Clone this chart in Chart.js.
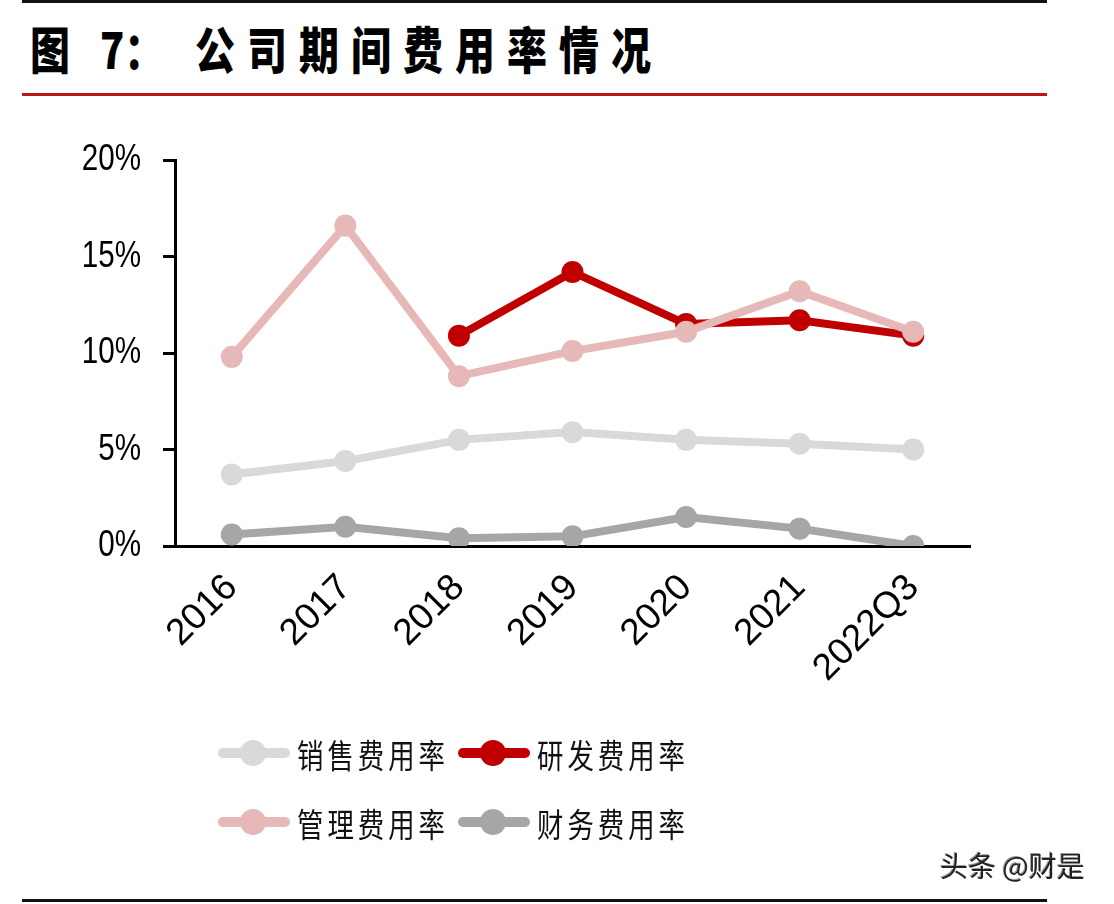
<!DOCTYPE html>
<html>
<head>
<meta charset="utf-8">
<script src="https://cdn.jsdelivr.net/npm/chart.js@4.4.0/dist/chart.umd.min.js"></script>
<style>
  html, body { margin: 0; padding: 0; background: #ffffff; }
  body { width: 1114px; height: 904px; position: relative; overflow: hidden; }
  #wrap { position: absolute; left: 0; top: 0; width: 1114px; height: 904px; }
  .hline { position: absolute; left: 22px; width: 1025px; }
  .cjk { font-family: "Noto Sans CJK SC", sans-serif; position: absolute; white-space: nowrap; transform-origin: left center; }
</style>
</head>
<body>
<div class="hline" style="top:0px;height:3px;background:#111;"></div>
<div class="cjk" style="left:30px;top:14px;font-size:50px;font-weight:900;line-height:66px;transform:scaleX(0.8);color:#000;">图</div>
<div class="cjk" style="left:100px;top:14px;font-size:50px;font-weight:900;line-height:66px;transform:scaleX(0.8);color:#000;">7：</div>
<div class="cjk" style="left:195px;top:14px;font-size:50px;font-weight:900;line-height:66px;letter-spacing:15px;transform:scaleX(0.8);color:#000;">公司期间费用率情况</div>
<div class="hline" style="top:93px;height:3px;background:#b8161b;"></div>
<div id="wrap"><canvas id="c" width="1114" height="904"></canvas></div>
<div id="legend"></div>
<div class="cjk" style="left:940px;top:847px;font-size:28px;line-height:36px;color:#222;text-shadow:1px 1px 0 #fff, -1px -1px 0 #999;">头条 @财是</div>
<div class="hline" style="top:899px;height:3px;background:#111;"></div>
<script>
const categories = ["2016", "2017", "2018", "2019", "2020", "2021", "2022Q3"];
const salesRate = [3.7, 4.4, 5.5, 5.9, 5.5, 5.3, 5.0];
const rdRate = [null, null, 10.9, 14.2, 11.5, 11.7, 10.9];
const adminRate = [9.8, 16.6, 8.8, 10.1, 11.1, 13.2, 11.1];
const financeRate = [0.6, 1.0, 0.4, 0.5, 1.5, 0.9, 0.0];
const yTicks = [0, 5, 10, 15, 20];

const seriesNames = ["销售费用率", "研发费用率", "管理费用率", "财务费用率"];
const seriesColors = ["#d9d9d9", "#c00000", "#e6b8b7", "#a6a6a6"];
const seriesData = [salesRate, rdRate, adminRate, financeRate];
const seriesOrder = [2, 1, 0, 3];

const axisFont = { family: "'Liberation Sans', Arial, sans-serif", size: 37 };

const datasets = seriesNames.map((name, i) => ({
  label: name,
  data: seriesData[i],
  borderColor: seriesColors[i],
  backgroundColor: seriesColors[i],
  pointBackgroundColor: seriesColors[i],
  pointBorderWidth: 0,
  pointRadius: 11,
  borderWidth: 8,
  tension: 0,
  spanGaps: false,
  order: seriesOrder[i]
}));

// horizontally condense the y tick labels (the reference is horizontally compressed)
const condenseY = {
  id: 'condenseY',
  beforeDraw(chart) {
    const s = chart.scales.y;
    if (s && !s._condensed) {
      const orig = s.drawLabels;
      s.drawLabels = function (area) {
        const ctx = this.ctx;
        const ax = this.right - 12 - 22;
        ctx.save();
        ctx.translate(ax, 0);
        ctx.scale(0.8, 1);
        ctx.translate(-ax, 0);
        orig.call(this, area);
        ctx.restore();
      };
      s._condensed = true;
    }
  }
};

new Chart(document.getElementById('c'), {
  type: 'line',
  data: { labels: categories, datasets: datasets },
  plugins: [condenseY],
  options: {
    responsive: false,
    animation: false,
    devicePixelRatio: 1,
    layout: { padding: { left: 0, right: 144, top: 160, bottom: 200 } },
    plugins: { legend: { display: false }, tooltip: { enabled: false } },
    scales: {
      x: {
        offset: true,
        grid: { display: true, drawOnChartArea: false, drawTicks: false },
        border: { display: true, color: '#000', width: 3 },
        ticks: { color: '#000', font: axisFont, minRotation: 45, maxRotation: 45, autoSkip: false, padding: 20 },
        afterFit: (s) => { s.height = 158; }
      },
      y: {
        min: 0, max: 20,
        afterBuildTicks: (s) => { s.ticks = yTicks.map(v => ({ value: v })); },
        grid: { display: true, drawOnChartArea: false, drawTicks: true, tickLength: 12, color: '#000', lineWidth: 3 },
        border: { display: true, color: '#000', width: 3 },
        ticks: { color: '#000', font: axisFont, padding: 22, callback: (v) => v + '%' },
        afterFit: (s) => { s.width = 175; }
      }
    }
  }
});

// HTML legend built from series arrays (2 columns)
const legend = document.getElementById('legend');
const legendPos = [[218, 753], [458, 753], [218, 822], [458, 822]];
[0, 1, 2, 3].forEach((si, k) => {
  const [lx, cy] = legendPos[k];
  const sw = document.createElement('div');
  sw.style.cssText = `position:absolute;left:${lx}px;top:${cy - 5}px;width:72px;height:10px;border-radius:5px;background:${seriesColors[si]};`;
  const dot = document.createElement('div');
  dot.style.cssText = `position:absolute;left:${lx + 35 - 13}px;top:${cy - 13}px;width:26px;height:26px;border-radius:13px;background:${seriesColors[si]};`;
  const txt = document.createElement('div');
  txt.className = 'cjk';
  txt.textContent = seriesNames[si];
  txt.style.cssText += `left:${lx + 79}px;top:${cy - 21}px;font-size:33px;line-height:44px;letter-spacing:5px;transform:scaleX(0.8);color:#111;`;
  legend.appendChild(sw);
  legend.appendChild(dot);
  legend.appendChild(txt);
});
</script>
</body>
</html>
